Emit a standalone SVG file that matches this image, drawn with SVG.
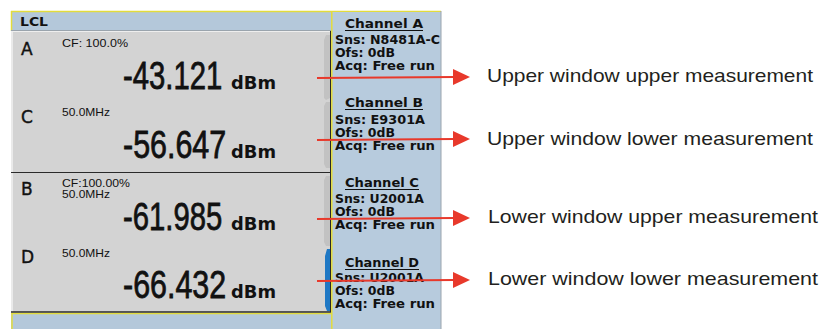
<svg xmlns="http://www.w3.org/2000/svg" width="831" height="329" viewBox="0 0 831 329">
  <defs>
    <style>
      .win { fill: #d3d3d3; }
      .tab { fill: #c2c2c2; }
      .big { font-family: "Liberation Sans", Arial, sans-serif; font-size: 39px; fill: #111; stroke: #111; stroke-width: 0.8; }
      .unit { font-family: "DejaVu Sans", sans-serif; font-weight: bold; font-size: 17px; fill: #111; }
      .ch { font-family: "DejaVu Sans", sans-serif; font-size: 17px; fill: #111; stroke: #111; stroke-width: 0.4; }
      .small { font-family: "Liberation Sans", Arial, sans-serif; font-size: 10.5px; fill: #111; }
      .info { font-family: "DejaVu Sans", sans-serif; font-weight: bold; font-size: 12px; fill: #111; }
      .ul { stroke: #111; stroke-width: 1.2; }
      .lbl { font-family: "Liberation Sans", Arial, sans-serif; font-size: 19px; fill: #231f20; }
      .conn { stroke: #e8392b; stroke-width: 2; fill: none; }
      .head { fill: #e8392b; }
    </style>
  </defs>
  <rect x="0" y="0" width="831" height="329" fill="#ffffff"/>

  <g id="screen">
    <rect x="11" y="11" width="321" height="20" fill="#b4c8da"/>
    <line x1="11" y1="11.5" x2="441" y2="11.5" stroke="#e3dc3c" stroke-width="1.5"/>
    <line x1="11.5" y1="11" x2="11.5" y2="31" stroke="#e3dc3c" stroke-width="1.5"/>
    <line x1="11" y1="30.5" x2="331" y2="30.5" stroke="#9aa4ad" stroke-width="1"/>
    <text x="20" y="26" font-family="DejaVu Sans, sans-serif" font-weight="bold" font-size="12" fill="#111" textLength="28" lengthAdjust="spacingAndGlyphs">LCL</text>
    <rect x="11" y="313" width="321" height="16" fill="#b4c8da"/>
    <line x1="11" y1="313.5" x2="331" y2="313.5" stroke="#e3dc3c" stroke-width="1.5"/>
    <line x1="12" y1="313" x2="12" y2="329" stroke="#e3dc3c" stroke-width="1.5"/>
  </g>

  <g id="upper-window">
    <rect class="win" x="11" y="31" width="319" height="141"/>
    <line x1="12" y1="31" x2="12" y2="172" stroke="#f2f2f2" stroke-width="1.5"/>
    <line x1="11" y1="31.5" x2="330" y2="31.5" stroke="#eeeeee" stroke-width="1"/>
    <path class="tab" d="M324,40 L326,35 L330,35 L330,98 L326,100 L324,98 Z"/>
    <path class="tab" d="M324,106 L326,102 L330,102 L330,168 L326,168 L324,164 Z"/>
    <text class="ch" x="21" y="55">A</text>
    <text class="small" x="62" y="47" textLength="66" lengthAdjust="spacingAndGlyphs">CF: 100.0%</text>
    <text class="big" transform="translate(123,89) scale(0.75,1)" x="0" y="0">-43.121</text>
    <text class="unit" x="231" y="89" textLength="45" lengthAdjust="spacingAndGlyphs">dBm</text>
    <text class="ch" x="21" y="123">C</text>
    <text class="small" x="62" y="116" textLength="48" lengthAdjust="spacingAndGlyphs">50.0MHz</text>
    <text class="big" transform="translate(123,158) scale(0.78,1)" x="0" y="0">-56.647</text>
    <text class="unit" x="231" y="158" textLength="45" lengthAdjust="spacingAndGlyphs">dBm</text>
  </g>

  <g id="lower-window">
    <rect class="win" x="11" y="173" width="319" height="139"/>
    <line x1="11" y1="172.5" x2="330" y2="172.5" stroke="#2a2a2a" stroke-width="1.2"/>
    <line x1="12" y1="173" x2="12" y2="312" stroke="#f2f2f2" stroke-width="1.5"/>
    <line x1="11" y1="312" x2="331" y2="312" stroke="#2a2a2a" stroke-width="1.6"/>
    <path class="tab" d="M324,180 L326,176 L330,176 L330,246 L326,246 L324,242 Z"/>
    <path d="M325,256 L327,249 L331,249 L331,311 L327,311 L325,306 Z" fill="#1f78c4"/>
    <text class="ch" x="21" y="195">B</text>
    <text class="small" x="62" y="187" textLength="68" lengthAdjust="spacingAndGlyphs">CF:100.00%</text>
    <text class="small" x="62" y="198" textLength="48" lengthAdjust="spacingAndGlyphs">50.0MHz</text>
    <text class="big" transform="translate(123,230) scale(0.75,1)" x="0" y="0">-61.985</text>
    <text class="unit" x="231" y="230" textLength="45" lengthAdjust="spacingAndGlyphs">dBm</text>
    <text class="ch" x="21" y="263">D</text>
    <text class="small" x="62" y="257" textLength="48" lengthAdjust="spacingAndGlyphs">50.0MHz</text>
    <text class="big" transform="translate(123,298) scale(0.78,1)" x="0" y="0">-66.432</text>
    <text class="unit" x="231" y="298" textLength="45" lengthAdjust="spacingAndGlyphs">dBm</text>
  </g>

  <g id="channel-panel">
    <rect x="332" y="12" width="109" height="317" fill="#b7cbdd"/>
    <line x1="330.5" y1="31" x2="330.5" y2="312" stroke="#2a2a2a" stroke-width="1"/>
    <line x1="331.8" y1="11" x2="331.8" y2="329" stroke="#e3dc3c" stroke-width="1.5"/>
    <line x1="441" y1="11" x2="441" y2="329" stroke="#9aa4ad" stroke-width="1"/>

    <text class="info" x="345" y="28" textLength="78" lengthAdjust="spacingAndGlyphs">Channel A</text>
    <line class="ul" x1="345" y1="30.5" x2="423" y2="30.5"/>
    <text class="info" x="335" y="44" textLength="105" lengthAdjust="spacingAndGlyphs">Sns: N8481A-C</text>
    <text class="info" x="335" y="57" textLength="60" lengthAdjust="spacingAndGlyphs">Ofs: 0dB</text>
    <text class="info" x="335" y="70" textLength="100" lengthAdjust="spacingAndGlyphs">Acq: Free run</text>

    <text class="info" x="345" y="107" textLength="78" lengthAdjust="spacingAndGlyphs">Channel B</text>
    <line class="ul" x1="345" y1="109.5" x2="423" y2="109.5"/>
    <text class="info" x="335" y="124" textLength="90" lengthAdjust="spacingAndGlyphs">Sns: E9301A</text>
    <text class="info" x="335" y="137" textLength="60" lengthAdjust="spacingAndGlyphs">Ofs: 0dB</text>
    <text class="info" x="335" y="150" textLength="100" lengthAdjust="spacingAndGlyphs">Acq: Free run</text>

    <text class="info" x="345" y="187" textLength="74" lengthAdjust="spacingAndGlyphs">Channel C</text>
    <line class="ul" x1="345" y1="189.5" x2="419" y2="189.5"/>
    <text class="info" x="335" y="203" textLength="89" lengthAdjust="spacingAndGlyphs">Sns: U2001A</text>
    <text class="info" x="335" y="216" textLength="60" lengthAdjust="spacingAndGlyphs">Ofs: 0dB</text>
    <text class="info" x="335" y="229" textLength="100" lengthAdjust="spacingAndGlyphs">Acq: Free run</text>

    <text class="info" x="345" y="267" textLength="74" lengthAdjust="spacingAndGlyphs">Channel D</text>
    <line class="ul" x1="345" y1="269.5" x2="419" y2="269.5"/>
    <text class="info" x="335" y="282" textLength="89" lengthAdjust="spacingAndGlyphs">Sns: U2001A</text>
    <text class="info" x="335" y="295" textLength="60" lengthAdjust="spacingAndGlyphs">Ofs: 0dB</text>
    <text class="info" x="335" y="308" textLength="100" lengthAdjust="spacingAndGlyphs">Acq: Free run</text>
  </g>

  <g id="connectors">
    <line class="conn" x1="317" y1="78" x2="455" y2="77"/>
    <polygon class="head" points="453,69 470,77 453,85"/>
    <line class="conn" x1="317" y1="140" x2="455" y2="139"/>
    <polygon class="head" points="453,131 470,139 453,147"/>
    <line class="conn" x1="317" y1="219" x2="455" y2="218"/>
    <polygon class="head" points="453,210 470,218 453,226"/>
    <line class="conn" x1="317" y1="281" x2="455" y2="280"/>
    <polygon class="head" points="453,272 470,280 453,288"/>
  </g>

  <g id="labels">
    <text class="lbl" x="487" y="82" textLength="326" lengthAdjust="spacingAndGlyphs">Upper window upper measurement</text>
    <text class="lbl" x="487" y="145" textLength="326" lengthAdjust="spacingAndGlyphs">Upper window lower measurement</text>
    <text class="lbl" x="488" y="223" textLength="330" lengthAdjust="spacingAndGlyphs">Lower window upper measurement</text>
    <text class="lbl" x="488" y="285" textLength="330" lengthAdjust="spacingAndGlyphs">Lower window lower measurement</text>
  </g>
</svg>
